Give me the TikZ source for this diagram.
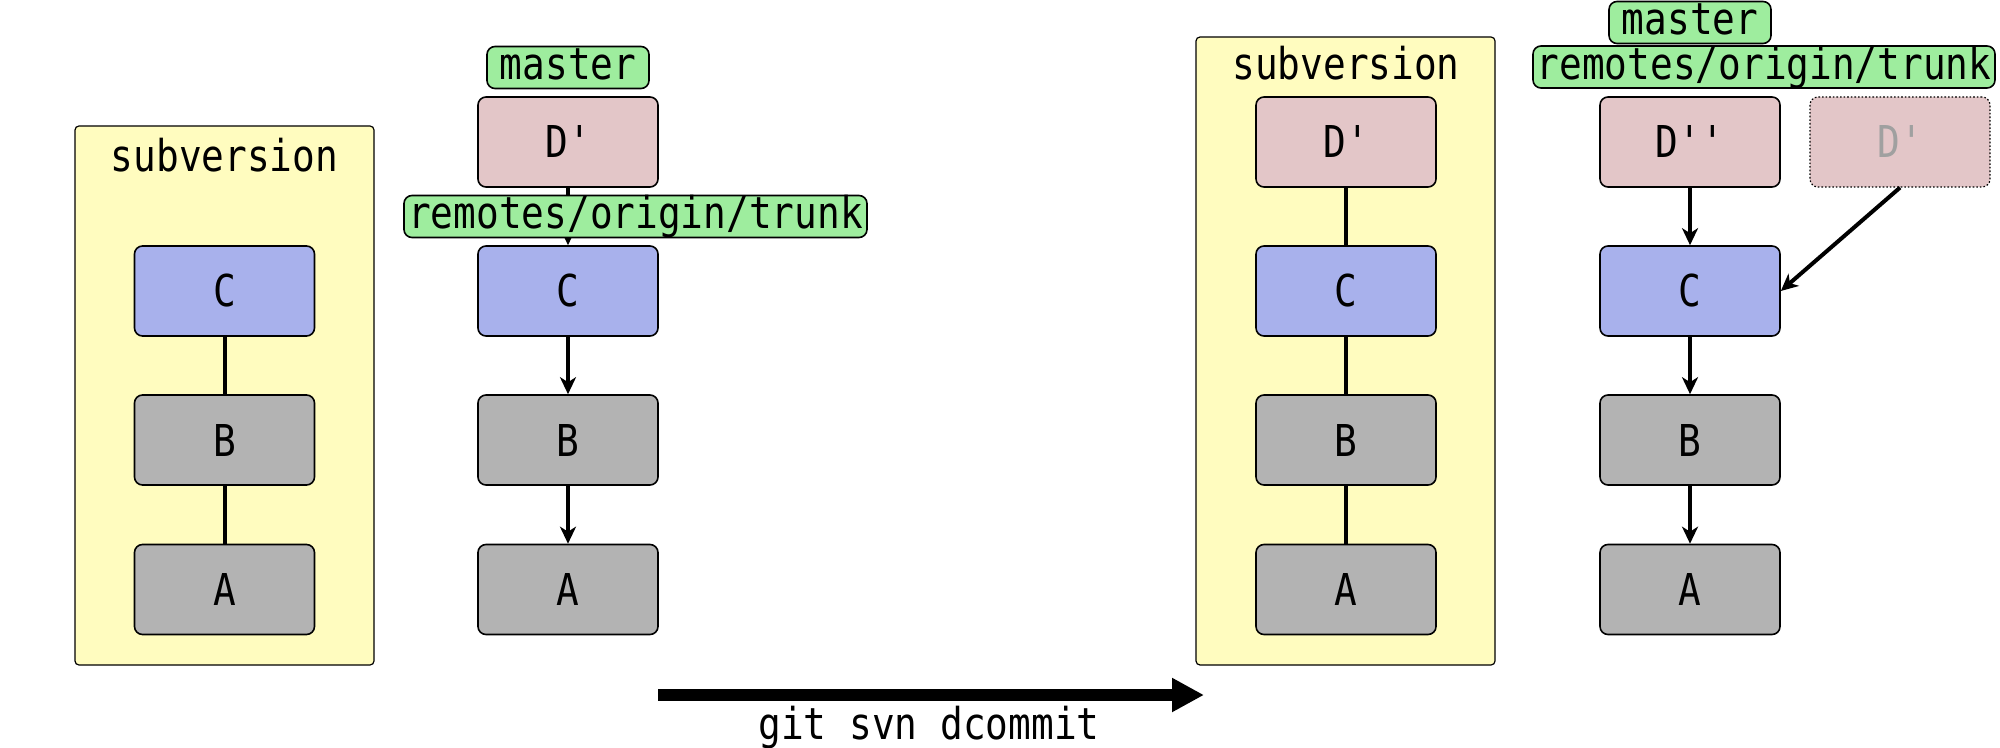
\documentclass[tikz,border=0pt]{standalone}
\usepackage{fontspec}
\setmonofont[FakeStretch=0.86]{DejaVu Sans Mono}
\usetikzlibrary{arrows.meta}
\definecolor{svnbg}{HTML}{FFFCBF}
\definecolor{pinkc}{HTML}{E3C6C8}
\definecolor{bluec}{HTML}{A8B1EC}
\definecolor{grayc}{HTML}{B3B3B3}
\definecolor{greent}{HTML}{9EED9E}
\definecolor{ghosttext}{HTML}{A0A0A0}
\newcommand{\cfont}{\ttfamily\fontsize{21.95}{26}\selectfont}
\tikzset{
  commit/.style={draw=black, line width=0.8pt, rounded corners=4pt, minimum width=90pt, minimum height=45pt, inner sep=0pt, font=\cfont},
  cpink/.style={commit, fill=pinkc},
  cblue/.style={commit, fill=bluec},
  cgray/.style={commit, fill=grayc},
  ghost/.style={commit, fill=pinkc, densely dotted, line width=0.6pt, text=ghosttext},
  tag/.style={draw=black, line width=0.8pt, fill=greent, rounded corners=4pt, minimum height=21pt, inner sep=0pt, text height=16.5pt, text depth=4.2pt, font=\cfont},
  svnbox/.style={draw=black, line width=0.6pt, fill=svnbg, rounded corners=2pt},
  svnlabel/.style={anchor=base, inner sep=0pt, font=\cfont},
  link/.style={line width=2pt},
  parent/.style={line width=2pt, -{Stealth[length=8.5pt, width=8pt, inset=2.5pt]}},
  bigarrow/.style={line width=6pt, -{Triangle[length=16pt, width=16pt]}},
}
\begin{document}
\begin{tikzpicture}[x=0.5pt, y=-0.5pt]
\useasboundingbox (0,0) rectangle (2000,748);

% ---- left: subversion ----
\node[svnbox, minimum width=149.5pt, minimum height=269.5pt] (svn1) at (224.5,395.5) {};
\node[svnlabel] (svn1l) at (224.5,172) {subversion};
\node[cblue] (C1) at (224.5,291) {C};
\node[cgray] (B1) at (224.5,440) {B};
\node[cgray] (A1) at (224.5,589.5) {A};
\draw[link] (C1) -- (B1);
\draw[link] (B1) -- (A1);

% ---- column 2: git ----
\node[cpink] (D2) at (568,142) {D'};
\node[cblue] (C2) at (568,291) {C};
\node[cgray] (B2) at (568,440) {B};
\node[cgray] (A2) at (568,589.5) {A};
\draw[parent] (D2) -- (C2);
\draw[parent] (C2) -- (B2);
\draw[parent] (B2) -- (A2);
\node[tag, minimum width=81pt] (m2) at (568,67.5) {master};
\node[tag, minimum width=231.5pt] (r2) at (635.5,216.5) {remotes/origin/trunk};

% ---- big arrow ----
\coordinate (s) at (658,695);
\coordinate (e) at (1204,695);
\draw[bigarrow] (s) -- (e);
\node[font=\cfont, inner sep=0pt, anchor=base] (cmd) at (929,739) {git svn dcommit};

% ---- right: subversion ----
\node[svnbox, minimum width=149.5pt, minimum height=314pt] (svn2) at (1345.5,351) {};
\node[svnlabel] (svn2l) at (1346,80) {subversion};
\node[cpink] (D3) at (1346,142) {D'};
\node[cblue] (C3) at (1346,291) {C};
\node[cgray] (B3) at (1346,440) {B};
\node[cgray] (A3) at (1346,589.5) {A};
\draw[link] (D3) -- (C3);
\draw[link] (C3) -- (B3);
\draw[link] (B3) -- (A3);

% ---- column 4: git after dcommit ----
\node[tag, minimum width=81pt] (m4) at (1690,22.5) {master};
\node[tag, minimum width=231pt] (r4) at (1764,67) {remotes/origin/trunk};
\node[cpink] (D4) at (1690,142) {D''};
\node[ghost] (G4) at (1900,142) {D'};
\node[cblue] (C4) at (1690,291) {C};
\node[cgray] (B4) at (1690,440) {B};
\node[cgray] (A4) at (1690,589.5) {A};
\draw[parent] (D4) -- (C4);
\draw[parent] (G4.south) -- (C4.east);
\draw[parent] (C4) -- (B4);
\draw[parent] (B4) -- (A4);
\end{tikzpicture}
\end{document}
